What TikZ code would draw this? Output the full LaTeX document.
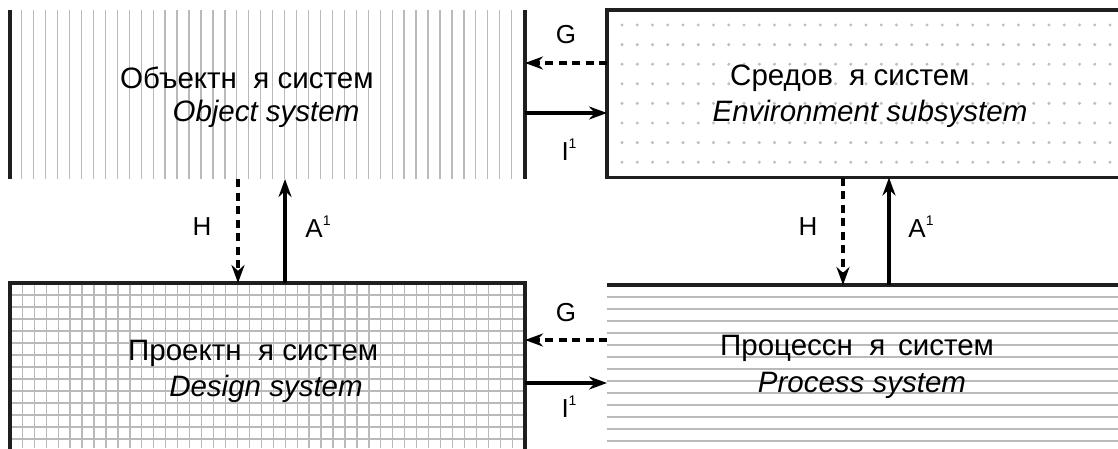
\documentclass[tikz,border=0pt]{standalone}
\usepackage{fontspec}
\setmainfont{Liberation Sans}
\usetikzlibrary{arrows.meta}
\tikzset{
  region/.style={draw=none,inner sep=0pt,outer sep=0pt},
  border/.style={line width=3.2pt,draw=black!88},
  hatch/.style={line width=1.3pt,draw=black!27},
  dotfill/.style={fill=black!25},
  arrowline/.style={draw=black,line width=3.4pt,-{Stealth[length=18pt,width=13pt]}},
  dashline/.style={arrowline,dash pattern=on 8pt off 5.5pt},
  lbl/.style={font=\fontsize{26}{28}\selectfont,inner sep=0pt},
  cyr/.style={inner sep=0pt,font=\fontsize{29.5}{36}\selectfont},
  lat/.style={inner sep=0pt,font=\fontsize{29.5}{36}\selectfont\itshape}
}
\newcommand{\gapa}{\hspace{0.56em}}
\newcommand{\supone}{\raisebox{0.45em}{\fontsize{14}{14}\selectfont 1}}
\begin{document}
\begin{tikzpicture}[x=1pt,y=-1pt]
\useasboundingbox (0,0) rectangle (1118,448);
% regions
\node[region,minimum width=515pt,minimum height=169pt] (obj) at (267.5,94.5) {};
\node[region,minimum width=523pt,minimum height=167.5pt] (env) at (868.5,93.75) {};
\node[region,minimum width=515pt,minimum height=177pt] (des) at (267.5,371.5) {};
\node[region,minimum width=521pt,minimum height=175pt] (proc) at (867.5,372.5) {};
% object: vertical lines
\foreach \i in {0,...,42} \draw[hatch] (21.7+\i*11.95,10) -- (21.7+\i*11.95,179);
% environment: dots
\foreach \i in {0,...,32} \foreach \j in {0,...,7}
  \fill[dotfill] (622+\i*15.25,25+\j*19.6) circle (1.7pt);
% design: grid
\begin{scope}
\clip (10,283) rectangle (525,448);
\foreach \i in {0,...,42} \draw[hatch] (22.3+\i*11.95,283) -- (22.3+\i*11.95,448);
\foreach \j in {0,...,13} \draw[hatch] (10,295+\j*12) -- (525,295+\j*12);
\end{scope}
% process: horizontal lines
\foreach \j in {0,...,12} \draw[hatch] (607,297+\j*12) -- (1118,297+\j*12);
% borders
\draw[border] (obj.north west) -- (obj.south west);
\draw[border] (obj.north east) -- (obj.south east);
\draw[border] (env.north east) -- (env.north west) -- (env.south west) -- (env.south east);
\draw[border] (des.south west) -- (des.north west) -- (des.north east) -- (des.south east);
\draw[border] (proc.north west) -- (proc.north east);
% titles
\node[cyr,anchor=west] (objc) at (120,78) {Объектн\gapa я систем};
\node[lat] (objl) at (266,114) {Object system};
\node[cyr,anchor=west] (envc) at (730,78) {Средов\gapa я систем};
\node[lat] (envl) at (870,114) {Environment subsystem};
\node[cyr,anchor=west] (desc) at (128,353) {Проектн\gapa я систем};
\node[lat] (desl) at (266,389) {Design system};
\node[cyr,anchor=west] (procc) at (720,348) {Процессн\gapa я\hspace{0.15em} систем};
\node[lat] (procl) at (862,385) {Process system};
% horizontal connectors
\draw[dashline] (env.west |- 0,63) -- (obj.east |- 0,63);
\draw[arrowline] (obj.east |- 0,113) -- (env.west |- 0,113);
\draw[dashline] (proc.west |- 0,340) -- (des.east |- 0,340);
\draw[arrowline] (des.east |- 0,383) -- (proc.west |- 0,383);
% vertical connectors
\draw[dashline] (obj.south -| 238,0) -- (des.north -| 238,0);
\draw[arrowline] (des.north -| 285,0) -- (obj.south -| 285,0);
\draw[dashline] (env.south -| 843,0) -- (proc.north -| 843,0);
\draw[arrowline] (proc.north -| 889,0) -- (env.south -| 889,0);
% labels
\node[lbl] (g1) at (566,35) {G};
\node[lbl] (i1) at (569,150) {I\supone};
\node[lbl] (g2) at (566,313) {G};
\node[lbl] (i2) at (569,407) {I\supone};
\node[lbl] (h1) at (202,227) {H};
\node[lbl] (a1) at (318,227) {A\supone};
\node[lbl] (h2) at (808,227) {H};
\node[lbl] (a2) at (921,227) {A\supone};
\end{tikzpicture}
\end{document}
